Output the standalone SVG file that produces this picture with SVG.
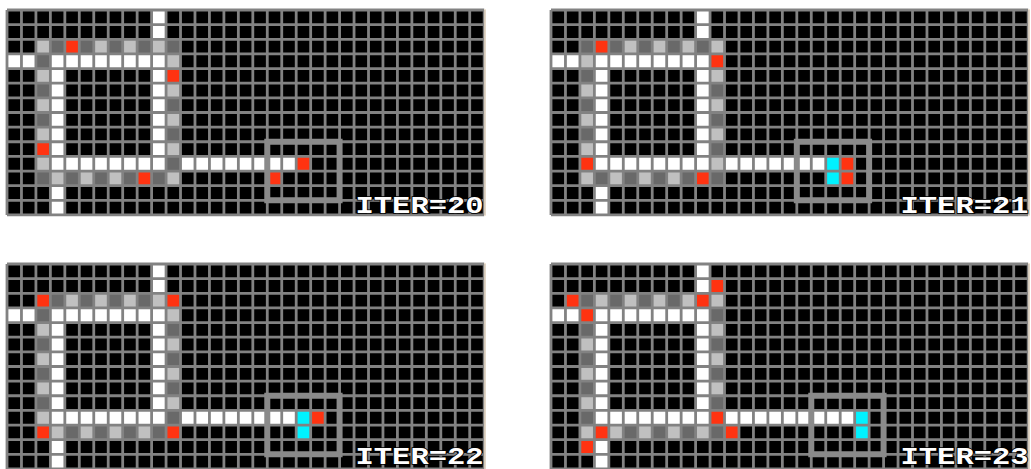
<svg xmlns="http://www.w3.org/2000/svg" xmlns:xlink="http://www.w3.org/1999/xlink" width="1031" height="469" viewBox="0 0 1031 469">
<style>
.bg{fill:#000}
.w{fill:#fff}
.r{fill:#ff3311}
.c{fill:#00f2ff}
.grid{fill:none;stroke:#828282;stroke-width:2.8;vector-effect:non-scaling-stroke}
.box{fill:none;stroke:#8a8a8a;stroke-width:6;vector-effect:non-scaling-stroke}
.edge{stroke:#efe0cc;stroke-width:1.5}
.t{font-family:"Liberation Mono","DejaVu Sans Mono",monospace;font-weight:bold;font-size:30.5px;fill:#fff;stroke:#000;stroke-width:2;paint-order:stroke}
</style>
<defs>
<pattern id="chkA" patternUnits="userSpaceOnUse" x="0" y="0" width="2" height="2">
<rect width="2" height="2" fill="#696969"/><rect width="1" height="1" fill="#c0c0c0"/><rect x="1" y="1" width="1" height="1" fill="#c0c0c0"/>
</pattern>
<pattern id="chkB" patternUnits="userSpaceOnUse" x="0" y="0" width="2" height="2">
<rect width="2" height="2" fill="#c0c0c0"/><rect width="1" height="1" fill="#696969"/><rect x="1" y="1" width="1" height="1" fill="#696969"/>
</pattern>
<path id="gridlines" class="grid" d="M0 0V14M1 0V14M2 0V14M3 0V14M4 0V14M5 0V14M6 0V14M7 0V14M8 0V14M9 0V14M10 0V14M11 0V14M12 0V14M13 0V14M14 0V14M15 0V14M16 0V14M17 0V14M18 0V14M19 0V14M20 0V14M21 0V14M22 0V14M23 0V14M24 0V14M25 0V14M26 0V14M27 0V14M28 0V14M29 0V14M30 0V14M31 0V14M32 0V14M33 0V14M0 0H33M0 1H33M0 2H33M0 3H33M0 4H33M0 5H33M0 6H33M0 7H33M0 8H33M0 9H33M0 10H33M0 11H33M0 12H33M0 13H33M0 14H33"/>
<g id="base">
<rect class="bg" x="0" y="0" width="33" height="14"/>
<rect class="w" x="-0.1" y="3" width="11.1" height="1"/>
<rect class="w" x="10" y="-0.1" width="1" height="11.1"/>
<rect class="w" x="3" y="3" width="1" height="11.15"/>
</g>
<path id="ring" d="M2 2H12V12H2ZM3 3V11H11V3Z" fill-rule="evenodd"/>
</defs>

<g id="p20">
<g transform="translate(7,10) scale(14.46,14.64)">
<use xlink:href="#base"/>
<rect class="w" x="3" y="10" width="17" height="1"/>
<use xlink:href="#ring" fill="url(#chkA)"/>
<rect class="r" x="4" y="2" width="1" height="1"/>
<rect class="r" x="11" y="4" width="1" height="1"/>
<rect class="r" x="2" y="9" width="1" height="1"/>
<rect class="r" x="9" y="11" width="1" height="1"/>
<rect class="r" x="20" y="10" width="1" height="1"/>
<rect class="r" x="18" y="11" width="1" height="1"/>
<use xlink:href="#gridlines"/>
<rect class="box" x="18" y="9" width="5" height="4"/>
</g>
<line class="edge" x1="485" y1="9" x2="485" y2="216"/>
<text class="t" transform="translate(355.5,213) scale(1,0.78)">ITER=20</text>
</g>

<g id="p21">
<g transform="translate(551,10) scale(14.46,14.64)">
<use xlink:href="#base"/>
<rect class="w" x="3" y="10" width="16" height="1"/>
<use xlink:href="#ring" fill="url(#chkB)"/>
<rect class="r" x="3" y="2" width="1" height="1"/>
<rect class="r" x="11" y="3" width="1" height="1"/>
<rect class="r" x="2" y="10" width="1" height="1"/>
<rect class="r" x="10" y="11" width="1" height="1"/>
<rect class="c" x="19" y="10" width="1" height="2"/>
<rect class="r" x="20" y="10" width="1" height="2"/>
<use xlink:href="#gridlines"/>
<rect class="box" x="17" y="9" width="5" height="4"/>
</g>
<line class="edge" x1="1029" y1="9" x2="1029" y2="216"/>
<text class="t" transform="translate(900.5,213) scale(1,0.78)">ITER=21</text>
</g>

<g id="p22">
<g transform="translate(7,264) scale(14.46,14.64)">
<use xlink:href="#base"/>
<rect class="w" x="3" y="10" width="17" height="1"/>
<use xlink:href="#ring" fill="url(#chkA)"/>
<rect class="r" x="2" y="2" width="1" height="1"/>
<rect class="r" x="11" y="2" width="1" height="1"/>
<rect class="r" x="2" y="11" width="1" height="1"/>
<rect class="r" x="11" y="11" width="1" height="1"/>
<rect class="c" x="20" y="10" width="1" height="2"/>
<rect class="r" x="21" y="10" width="1" height="1"/>
<use xlink:href="#gridlines"/>
<rect class="box" x="18" y="9" width="5" height="4"/>
</g>
<line class="edge" x1="485" y1="263" x2="485" y2="469"/>
<text class="t" transform="translate(355.5,464) scale(1,0.78)">ITER=22</text>
</g>

<g id="p23">
<g transform="translate(551,264) scale(14.46,14.64)">
<use xlink:href="#base"/>
<rect class="w" x="3" y="10" width="18" height="1"/>
<use xlink:href="#ring" fill="url(#chkB)"/>
<rect class="r" x="11" y="1" width="1" height="1"/>
<rect class="r" x="1" y="2" width="1" height="1"/>
<rect class="r" x="10" y="2" width="1" height="1"/>
<rect class="r" x="2" y="3" width="1" height="1"/>
<rect class="r" x="11" y="10" width="1" height="1"/>
<rect class="r" x="3" y="11" width="1" height="1"/>
<rect class="r" x="12" y="11" width="1" height="1"/>
<rect class="r" x="2" y="12" width="1" height="1"/>
<rect class="c" x="21" y="10" width="1" height="2"/>
<use xlink:href="#gridlines"/>
<rect class="box" x="18" y="9" width="5" height="4"/>
</g>
<line class="edge" x1="1029" y1="263" x2="1029" y2="469"/>
<text class="t" transform="translate(900.5,464) scale(1,0.78)">ITER=23</text>
</g>
</svg>
